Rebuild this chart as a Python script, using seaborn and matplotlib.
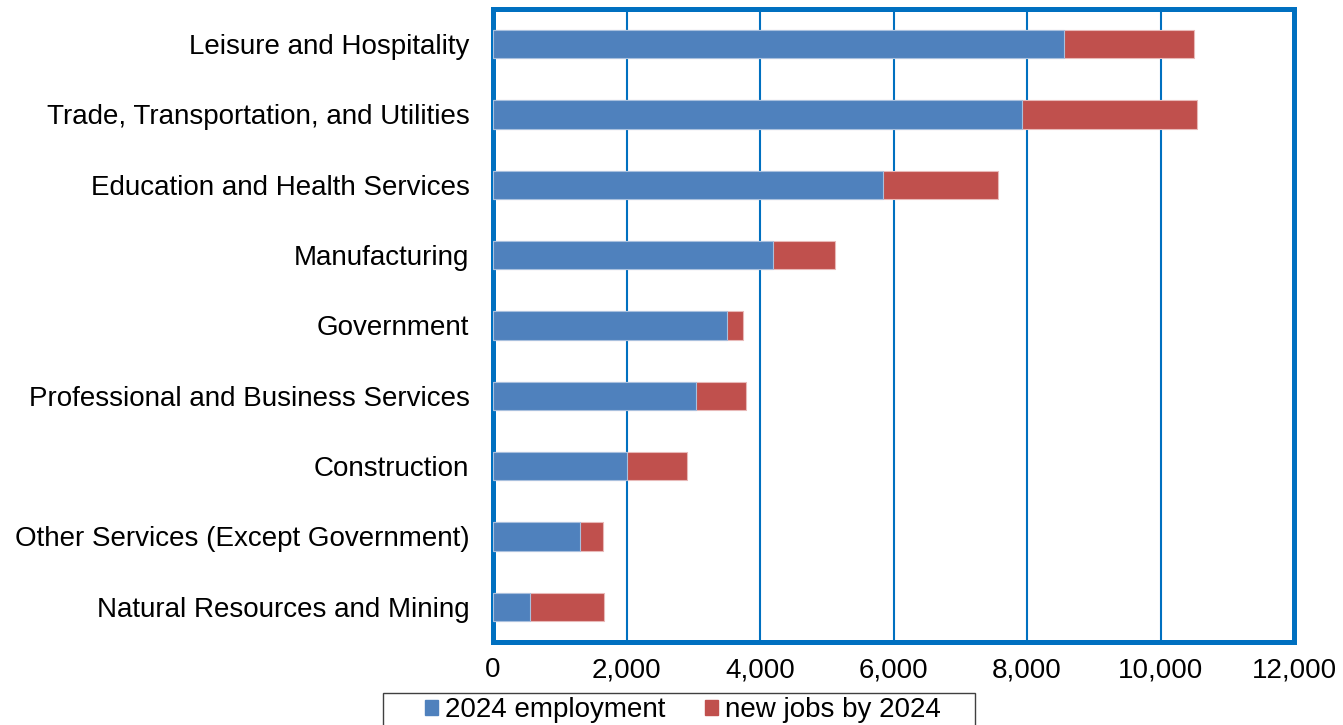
import numpy as np
import pandas as pd
import matplotlib
matplotlib.use('Agg')
import matplotlib.pyplot as plt
import seaborn as sns
from matplotlib.patches import Patch, Rectangle
from matplotlib.ticker import FuncFormatter, FixedLocator

industries = [
    'Leisure and Hospitality',
    'Trade, Transportation, and Utilities',
    'Education and Health Services',
    'Manufacturing',
    'Government',
    'Professional and Business Services',
    'Construction',
    'Other Services (Except Government)',
    'Natural Resources and Mining',
]
employment_2024 = [8550, 7920, 5850, 4200, 3500, 3035, 2010, 1310, 550]
new_jobs_2024 = [1955, 2625, 1720, 925, 245, 755, 895, 345, 1120]

df = pd.DataFrame({'industry': industries,
                   'employment': employment_2024,
                   'new_jobs': new_jobs_2024})
df['total'] = df['employment'] + df['new_jobs']

blue = '#4F81BD'
red = '#C0504D'
frame_blue = '#0070C0'

sns.set_style('white')
plt.rcParams['font.family'] = ['Liberation Sans', 'DejaVu Sans']
plt.rcParams['text.color'] = 'black'

fig = plt.figure(figsize=(13.43, 7.25), dpi=100)
ax = fig.add_axes([493 / 1343, 1 - 642 / 725, (1294 - 493) / 1343, (642 - 9) / 725])

sns.barplot(data=df, x='total', y='industry', color=red, width=0.4,
            saturation=1, orient='h', ax=ax, edgecolor='#E8B9B8', linewidth=0.8, zorder=3)
sns.barplot(data=df, x='employment', y='industry', color=blue, width=0.4,
            saturation=1, orient='h', ax=ax, edgecolor='#A9C0DE', linewidth=0.8, zorder=3)

ax.set_xlim(0, 12000)
ax.set_ylim(len(df) - 0.5, -0.5)
ax.set_xticks(np.arange(0, 12001, 2000))
ax.xaxis.set_major_formatter(FuncFormatter(lambda v, p: f'{int(v):,}'))
ax.grid(True, axis='x', color=frame_blue, linewidth=1.5, zorder=0)
ax.set_axisbelow(True)
ax.set_xlabel('')
ax.set_ylabel('')

for s in ax.spines.values():
    s.set_color(frame_blue)
    s.set_linewidth(3.6)
    s.set_visible(True)

ax.tick_params(axis='x', labelsize=20, labelcolor='black', length=6, width=1,
               color='#5B9BD5', direction='out', pad=5)
ax.tick_params(axis='y', which='major', labelsize=20, labelcolor='black', length=0, pad=17)
ax.yaxis.set_minor_locator(FixedLocator(np.arange(-0.5, len(df), 1)))
ax.tick_params(axis='y', which='minor', length=8, width=1, color='#5B9BD5', direction='out')

# legend, with its own box drawn wider like the original
handles = [Patch(color=blue, label='2024 employment'),
           Patch(color=red, label='new jobs by 2024')]
fig.legend(handles=handles, loc='center', bbox_to_anchor=(683 / 1343, 1 - 710 / 725),
           ncol=2, frameon=False, fontsize=20, handlelength=0.45,
           handleheight=0.45, columnspacing=1.45, handletextpad=0.25,
           labelcolor='black')
fig.patches.append(Rectangle((383 / 1343, -5 / 725), 592 / 1343, 37 / 725,
                             transform=fig.transFigure, fill=False,
                             edgecolor='#404040', linewidth=1))

fig.savefig('out.png', dpi=100)
